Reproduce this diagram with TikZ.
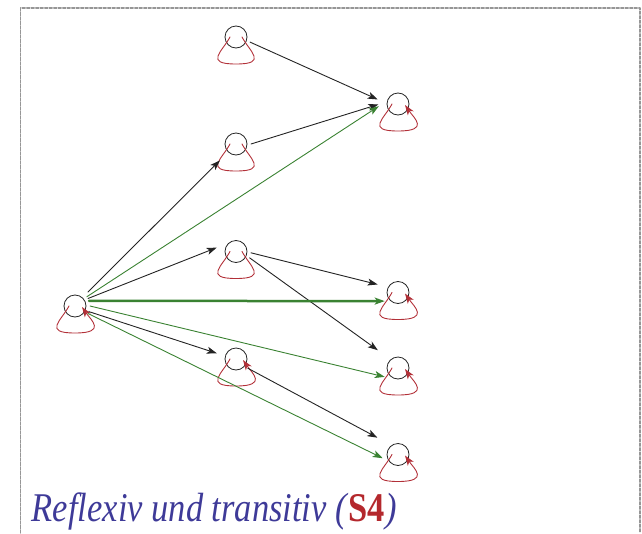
\documentclass[tikz,border=0pt]{standalone}
\usepackage{fontspec}
\setmainfont{Liberation Serif}
\usetikzlibrary{arrows.meta,calc}
\definecolor{relblack}{RGB}{35,35,35}
\definecolor{transgreen}{RGB}{58,130,50}
\definecolor{loopred}{RGB}{178,48,56}
\definecolor{titleblue}{RGB}{62,58,152}
\definecolor{titlered}{RGB}{180,40,45}
\definecolor{framegray}{RGB}{150,150,150}
\begin{document}
\begin{tikzpicture}[x=1pt, y=-1pt, line join=round, line cap=round, >={Stealth[length=10pt,width=7pt,inset=2.5pt]},
	world/.style={circle, draw=black!85, line width=0.8pt, minimum size=22pt, inner sep=0pt, outer sep=4pt},
	rel/.style={->, relblack, line width=0.9pt},
	trans/.style={->, transgreen, line width=0.9pt},
	refl/.style={loopred, line width=0.9pt}]
	\def\xl{236} \def\xr{398}
	\useasboundingbox (0,0) rectangle (642,533);
	\draw[framegray, line width=1.2pt, dash pattern=on 3pt off 1.5pt] (20.7,533) -- (20.7,8) -- (640,8) -- (640,533);
	\node[world] (r) at (75,306) {};
	\node[world] (a) at (\xl,37) {};
	\node[world] (b) at (\xl,144) {};
	\node[world] (c) at (\xl,251.5) {};
	\node[world] (d) at (\xl,359) {};
	\node[world] (t1) at (\xr,104) {};
	\node[world] (t2) at (\xr,292.5) {};
	\node[world] (t3) at (\xr,368) {};
	\node[world] (t4) at (\xr,454.5) {};
	\foreach \w in {a,b,c} \draw[refl] ($(\w)+(-6,0)$) .. controls ($(\w)+(-14,15)$) and ($(\w)+(-32,27)$) .. ($(\w)+(0,27)$)
		.. controls ($(\w)+(32,27)$) and ($(\w)+(14,15)$) .. ($(\w)+(6,0)$);
	\foreach \w in {d,r,t1,t2,t3,t4} \draw[refl,->] ($(\w)+(-6,0)$) .. controls ($(\w)+(-14,15)$) and ($(\w)+(-32,27)$) .. ($(\w)+(0,27)$)
		.. controls ($(\w)+(32,27)$) and ($(\w)+(16,14)$) .. ($(\w)+(7,1)$);
	% accessibility
	\draw[rel, shorten >=6pt] (a.-20) -- (t1.172);
	\draw[rel, shorten >=5pt] (b.0) -- (t1.176);
	\draw[rel, shorten >=8pt, shorten <=4pt] (r.48) -- (b.226);
	\draw[rel, shorten >=6pt] (r.30) -- (c.156);
	\draw[rel, shorten >=5pt] (r.-22) -- (d.164);
	\draw[rel, shorten >=7pt] (c.-5) -- (t2.155);
	\draw[rel, shorten >=12pt] (c.-25) -- (t3.134);
	\draw[rel, shorten >=12pt] (d.-38) -- (t4.132);
	% transitive closure
	\draw[trans, shorten >=5pt] (r.38) -- (t1.178);
	\draw[trans, line width=2.5pt, shorten >=1pt] (r.20) -- (t2.215);
	\draw[trans, shorten >=1.5pt] (r.0) -- (t3.218);
	\draw[trans, shorten >=1pt] (r.-30) -- (t4.196);
	\node[anchor=base west, inner sep=0pt, xscale=0.845, transform shape, text=titleblue, font=\fontsize{40.8}{48}\selectfont\itshape] (title) at (31.7,521.7) {Reflexiv und transitiv (\textbf{\textup{\color{titlered}S4}})};
\end{tikzpicture}
\end{document}
